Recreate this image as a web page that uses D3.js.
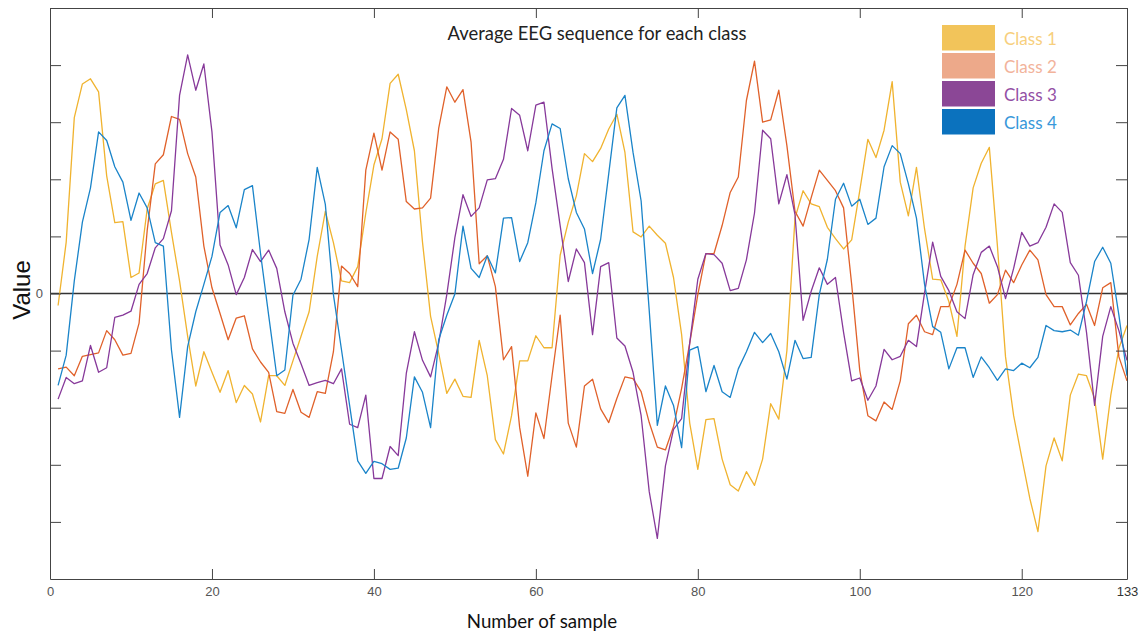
<!DOCTYPE html>
<html>
<head>
<meta charset="utf-8">
<script src="https://cdn.jsdelivr.net/npm/d3@7"></script>
<style>
  body { margin: 0; background: #fff; }
  svg { display: block; }
  .axis path, .axis line { stroke: #444; }
  .axis text { font-family: "Liberation Sans", Arial, sans-serif; font-size: 13px; fill: #555; }
</style>
</head>
<body>
<div id="chart"></div>
<script>
// average EEG value per sample, in units of one y tick step
const class1 = [
  -0.21, 0.9, 3.08, 3.67, 3.76, 3.53, 2.06, 1.24, 1.26, 0.28,
  0.36, 1.48, 1.92, 1.98, 1.07, 0.22, -0.75, -1.62, -1.02, -1.38,
  -1.73, -1.35, -1.91, -1.61, -1.76, -2.25, -1.44, -1.44, -1.61, -1.18,
  -0.75, -0.32, 0.65, 1.44, 0.89, 0.22, 0.19, 0.47, 1.41, 2.25,
  2.71, 3.68, 3.84, 3.22, 2.5, 0.9, -0.4, -1.05, -1.75, -1.5,
  -1.8, -1.82, -0.82, -1.44, -2.56, -2.81, -2.14, -1.18, -1.18, -0.74,
  -0.95, -0.95, 0.67, 1.25, 1.71, 2.45, 2.31, 2.54, 2.88, 3.14,
  2.47, 1.08, 0.99, 1.18, 1.02, 0.88, 0.28, -0.72, -2.27, -3.08,
  -2.21, -2.19, -2.9, -3.35, -3.46, -3.12, -3.36, -2.9, -1.93, -2.2,
  -1.0, 1.32, 1.8, 1.57, 1.52, 1.16, 0.96, 0.78, 0.94, 1.8,
  2.7, 2.38, 2.86, 3.71, 1.95, 1.36, 2.21, 1.13, 0.25, 0.24,
  -0.14, -0.75, 0.83, 1.85, 2.28, 2.56, 0.83, -1.11, -2.14, -2.87,
  -3.59, -4.17, -3.02, -2.53, -2.93, -1.78, -1.41, -1.44, -1.84, -2.9,
  -1.78, -0.96, -0.56
];
const class2 = [
  -1.32, -1.29, -1.44, -1.1, -1.07, -1.04, -0.65, -0.81, -1.08, -1.05,
  -0.52, 1.1, 2.27, 2.43, 3.1, 3.05, 2.45, 2.04, 0.83, 0.1,
  -0.35, -0.81, -0.43, -0.39, -0.97, -1.2, -1.38, -2.07, -2.1, -1.68,
  -2.08, -2.17, -1.72, -1.75, -1.02, 0.48, 0.35, 0.12, 2.16, 2.81,
  2.16, 2.83, 2.7, 1.61, 1.48, 1.5, 1.67, 2.89, 3.62, 3.35,
  3.57, 2.65, 0.52, 0.66, 0.12, -1.16, -0.93, -2.35, -3.2, -2.09,
  -2.54, -1.44, -0.38, -2.27, -2.69, -1.62, -1.5, -2.02, -2.26, -1.84,
  -1.46, -1.49, -1.72, -2.26, -2.69, -2.74, -2.33, -1.66, -0.87, -0.02,
  0.7, 0.7, 1.19, 1.77, 2.04, 3.38, 4.07, 3.0, 3.04, 3.56,
  2.59, 1.44, 1.18, 1.68, 2.16, 1.98, 1.8, 1.5, 0.16, -1.35,
  -2.14, -2.23, -1.9, -2.03, -1.53, -0.53, -0.38, -0.67, -0.72, -0.23,
  -0.23, 0.16, 0.76, 0.53, 0.35, -0.17, -0.02, 0.41, 0.19, 0.5,
  0.76, 0.59, -0.02, -0.23, -0.23, -0.55, -0.35, -0.19, -0.56, 0.1,
  0.19, -1.11, -1.53
];
const class3 = [
  -1.85, -1.47, -1.58, -1.53, -0.91, -1.38, -1.3, -0.42, -0.38, -0.31,
  0.16, 0.35, 0.8, 0.96, 1.45, 3.47, 4.18, 3.56, 4.02, 2.83,
  0.85, 0.5, -0.02, 0.28, 0.77, 0.56, 0.76, 0.44, -0.32, -0.87,
  -1.23, -1.61, -1.56, -1.52, -1.58, -1.32, -2.29, -2.35, -1.78, -3.24,
  -3.24, -2.68, -2.84, -1.4, -0.67, -1.17, -1.46, -0.87, -0.02, 0.98,
  1.73, 1.35, 1.5, 1.99, 2.01, 2.35, 3.24, 3.12, 2.5, 3.3,
  3.35, 2.19, 1.19, 0.21, 0.78, 0.54, -0.72, 0.47, 0.54, -0.78,
  -0.92, -1.38, -2.14, -3.47, -4.29, -3.02, -2.38, -2.19, -0.87, 0.25,
  0.7, 0.68, 0.53, 0.05, 0.09, 0.59, 1.41, 2.86, 2.71, 1.57,
  2.08, 1.38, -0.47, 0.04, 0.45, 0.16, 0.28, -0.68, -1.53, -1.48,
  -1.87, -1.62, -0.98, -1.16, -1.1, -0.82, -0.93, 0.01, 0.9, 0.3,
  0.05, -0.32, -0.44, 0.33, 0.72, 0.83, 0.47, -0.09, 0.44, 1.07,
  0.83, 0.89, 1.16, 1.57, 1.42, 0.54, 0.32, -0.68, -1.96, -0.75,
  -0.23, -0.65, -1.17
];
const class4 = [
  -1.61, -1.08, 0.22, 1.25, 1.85, 2.83, 2.68, 2.22, 1.95, 1.28,
  1.76, 1.5, 0.89, 0.83, -0.99, -2.17, -0.93, -0.32, 0.16, 0.65,
  1.42, 1.54, 1.15, 1.82, 1.89, 0.7, -0.38, -1.44, -1.34, -0.03,
  0.25, 0.95, 2.21, 1.56, -0.02, -0.99, -1.96, -2.93, -3.15, -2.94,
  -2.98, -3.08, -3.06, -2.53, -1.46, -1.73, -2.35, -0.81, -0.38, -0.01,
  1.18, 0.44, 0.28, 0.66, 0.36, 1.32, 1.33, 0.56, 0.89, 1.59,
  2.5, 2.97, 2.89, 2.01, 1.42, 1.13, 0.35, 0.95, 2.1, 3.25,
  3.47, 2.47, 1.62, -0.3, -2.31, -1.62, -1.96, -2.7, -0.99, -0.93,
  -1.72, -1.26, -1.72, -1.82, -1.32, -1.02, -0.68, -0.86, -0.7, -1.02,
  -1.5, -0.82, -1.14, -1.12, -0.02, 0.6, 1.65, 1.93, 1.53, 1.65,
  1.21, 1.32, 2.22, 2.59, 2.45, 1.92, 1.32, 0.16, -0.58, -0.68,
  -1.32, -0.95, -0.95, -1.47, -1.11, -1.3, -1.52, -1.32, -1.35, -1.22,
  -1.3, -1.12, -0.56, -0.65, -0.67, -0.64, -0.73, -0.14, 0.56, 0.81,
  0.53, -0.38, -1.44
];

const classNames = ["Class 1", "Class 2", "Class 3", "Class 4"];
const lineColors = ["#f0b32f", "#e0612a", "#87399a", "#1a84c9"];
const boxColors = ["#f2c45a", "#eda98a", "#8b4796", "#0b72be"];
const labelColors = ["#f7cf7d", "#f2b39b", "#9350a5", "#3898da"];
const xTicks = [0, 20, 40, 60, 80, 100, 120, 133];
const yTicks = [-4, -3, -2, -1, 0, 1, 2, 3, 4];

const series = [class1, class2, class3, class4];

const width = 1142, height = 635;
const margin = {top: 8, right: 15, bottom: 56, left: 50};

const svg = d3.select("#chart").append("svg")
    .attr("width", width)
    .attr("height", height);

const x = d3.scaleLinear()
    .domain([0, 133])
    .range([margin.left, width - margin.right]);
const y = d3.scaleLinear()
    .domain([-5, 5])
    .range([height - margin.bottom, margin.top]);

// zero line
svg.append("line")
    .attr("x1", x(0)).attr("x2", x(133))
    .attr("y1", y(0)).attr("y2", y(0))
    .attr("stroke", "#333")
    .attr("stroke-width", 1.3);

// series
const line = d3.line()
    .x((d, i) => x(i + 1))
    .y(d => y(d));

series.forEach((s, k) => {
    svg.append("path")
        .datum(s)
        .attr("fill", "none")
        .attr("stroke", lineColors[k])
        .attr("stroke-width", 1.3)
        .attr("stroke-linejoin", "round")
        .attr("d", line);
});

// axes, ticks pointing inwards like MATLAB
const xAxis = svg.append("g")
    .attr("class", "axis")
    .attr("transform", "translate(0," + y(-5) + ")")
    .call(d3.axisBottom(x).tickValues(xTicks).tickSizeInner(-10).tickSizeOuter(0).tickPadding(8));
xAxis.selectAll("text").filter(d => d === 133).style("fill", "#333");

svg.append("g")
    .attr("class", "axis")
    .attr("transform", "translate(0," + y(5) + ")")
    .call(d3.axisTop(x).tickValues(xTicks).tickSizeInner(-10).tickSizeOuter(0).tickFormat(""));

svg.append("g")
    .attr("class", "axis")
    .attr("transform", "translate(" + x(0) + ",0)")
    .call(d3.axisLeft(y).tickValues(yTicks).tickSizeInner(-11).tickSizeOuter(0).tickPadding(7)
        .tickFormat(d => d === 0 ? "0" : ""));

svg.append("g")
    .attr("class", "axis")
    .attr("transform", "translate(" + x(133) + ",0)")
    .call(d3.axisRight(y).tickValues(yTicks).tickSizeInner(-11).tickSizeOuter(0).tickFormat(""));

// title and labels
svg.append("text")
    .attr("x", 597).attr("y", 40)
    .attr("text-anchor", "middle")
    .style("font-family", "Lato, 'Open Sans', sans-serif")
    .style("font-size", "18.4px")
    .style("fill", "#222")
    .text("Average EEG sequence for each class");

svg.append("text")
    .attr("x", 542).attr("y", 628)
    .attr("text-anchor", "middle")
    .style("font-family", "Lato, 'Open Sans', sans-serif")
    .style("font-size", "18.7px")
    .style("fill", "#111")
    .text("Number of sample");

svg.append("text")
    .attr("transform", "translate(30,290) rotate(-90)")
    .attr("text-anchor", "middle")
    .style("font-family", "'Liberation Sans', Arial, sans-serif")
    .style("font-size", "24px")
    .style("fill", "#111")
    .text("Value");

// legend
const legend = svg.append("g").attr("transform", "translate(942,25)");
classNames.forEach((name, k) => {
    legend.append("rect")
        .attr("x", 0).attr("y", k * 28)
        .attr("width", 53).attr("height", 25.5)
        .attr("fill", boxColors[k]);
    legend.append("text")
        .attr("x", 62).attr("y", k * 28 + 19.5)
        .style("font-family", "Lato, 'Open Sans', sans-serif")
        .style("font-size", "17px")
        .style("fill", labelColors[k])
        .text(name);
});
</script>
</body>
</html>
